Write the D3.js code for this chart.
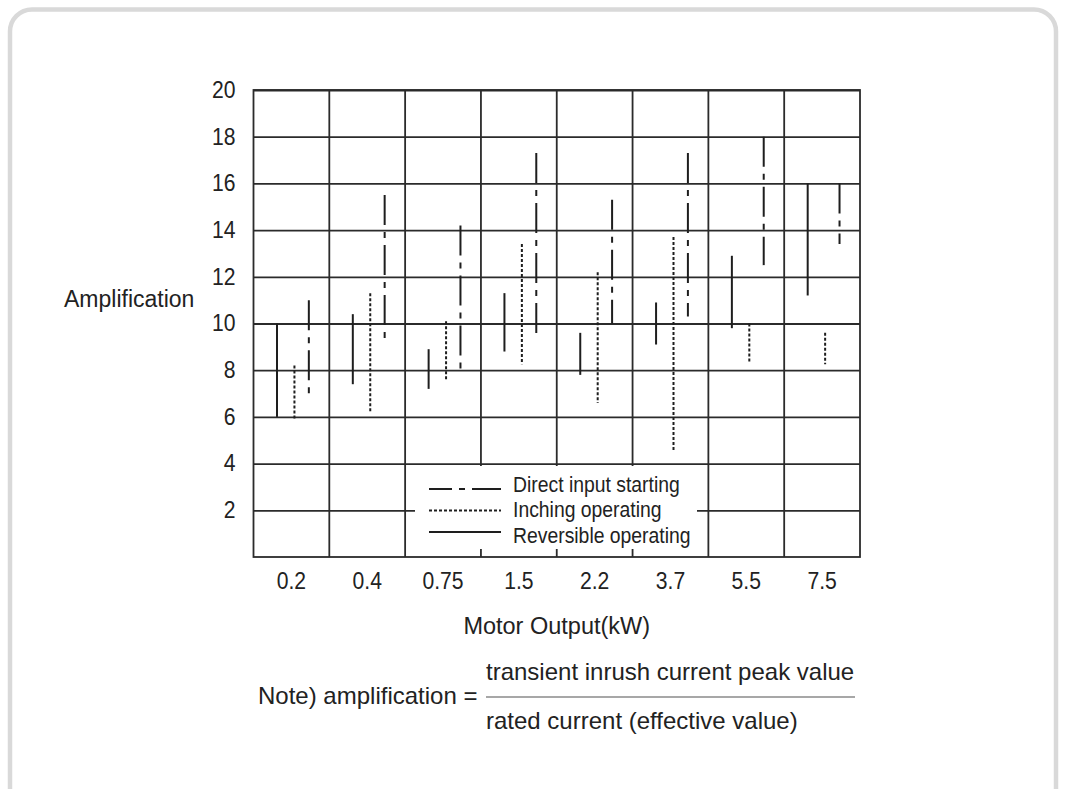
<!DOCTYPE html>
<html>
<head>
<meta charset="utf-8">
<script src="https://cdn.jsdelivr.net/npm/d3@7"></script>
<style>
  body { margin: 0; background: #fff; }
  svg text { font-family: "Liberation Sans", Arial, Helvetica, sans-serif; fill: #222; }
</style>
</head>
<body>
<div class="root"></div>
<script>
const width = 1066;
const height = 789;

// motor output categories (kW)
const categories = ["0.2", "0.4", "0.75", "1.5", "2.2", "3.7", "5.5", "7.5"];
// amplification ranges
const reversibleLow = [6.0, 7.4, 7.2, 8.8, 7.8, 9.1, 9.8, 11.2];
const reversibleHigh = [10.0, 10.4, 8.9, 11.3, 9.6, 10.9, 12.9, 16.0];
const inchingLow = [5.9, 6.2, 7.6, 8.25, 6.6, 4.5, 8.3, 8.25];
const inchingHigh = [8.2, 11.3, 10.1, 13.4, 12.2, 13.7, 10.0, 9.6];
const directLow = [6.8, 9.2, 7.9, 9.5, 10.0, 10.3, 12.5, 13.4];
const directHigh = [11.0, 15.5, 14.2, 17.3, 15.3, 17.3, 18.0, 16.0];
const yTicks = [2, 4, 6, 8, 10, 12, 14, 16, 18, 20];

const series = [
  { name: "Reversible operating", low: reversibleLow, high: reversibleHigh, pos: 0.31, dash: null, legendDash: null },
  { name: "Inching operating", low: inchingLow, high: inchingHigh, pos: 0.54, dash: "3,2", legendDash: "3,2" },
  { name: "Direct input starting", low: directLow, high: directHigh, pos: 0.73, dash: "30,7,6,7", legendDash: "23,7,6,7,40" },
];
const legendOrder = [series[2], series[1], series[0]];

const svg = d3
  .select(".root")
  .append("svg")
  .attr("width", width)
  .attr("height", height);

// rounded frame
svg.append("rect")
  .attr("x", 10).attr("y", 9.5)
  .attr("width", 1046).attr("height", 820)
  .attr("rx", 22)
  .attr("fill", "none")
  .attr("stroke", "#d9d9d9")
  .attr("stroke-width", 4.5);

const plotLeft = 253.5, plotRight = 860, plotTop = 90, plotBottom = 557;

const x = d3.scaleBand().domain(categories).range([plotLeft, plotRight]);
const y = d3.scaleLinear().domain([0, 20]).range([plotBottom, plotTop]);

const grid = svg.append("g");

// horizontal grid + y labels
const yAxis = grid.append("g")
  .attr("transform", `translate(${plotLeft},0)`)
  .call(d3.axisLeft(y).tickValues(yTicks).tickSize(-(plotRight - plotLeft)).tickPadding(18));
yAxis.select(".domain").remove();
yAxis.selectAll(".tick line").attr("stroke", "#2b2b2b").attr("stroke-width", 1.8);
yAxis.selectAll(".tick text")
  .attr("font-size", 23)
  .attr("font-family", null)
  .attr("fill", "#222")
  .attr("transform", "scale(0.92,1)")
  .attr("x", -18 / 0.92);

// vertical grid
grid.selectAll(".vline")
  .data(categories.slice(1))
  .join("line")
  .attr("x1", (d) => x(d)).attr("x2", (d) => x(d))
  .attr("y1", plotTop).attr("y2", plotBottom)
  .attr("stroke", "#2b2b2b")
  .attr("stroke-width", 1.8);

grid.append("rect")
  .attr("x", plotLeft).attr("y", plotTop)
  .attr("width", plotRight - plotLeft).attr("height", plotBottom - plotTop)
  .attr("fill", "none")
  .attr("stroke", "#2b2b2b")
  .attr("stroke-width", 1.8);

// x labels
const xAxis = svg.append("g")
  .attr("transform", `translate(0,${plotBottom})`)
  .call(d3.axisBottom(x).tickSize(0).tickPadding(16));
xAxis.select(".domain").remove();
xAxis.selectAll(".tick text")
  .attr("font-size", 23)
  .attr("font-family", null)
  .attr("fill", "#222")
  .attr("transform", "scale(0.92,1)");

// range lines
series.forEach((s) => {
  svg.append("g")
    .selectAll("line")
    .data(categories)
    .join("line")
    .attr("x1", (d) => x(d) + x.bandwidth() * s.pos)
    .attr("x2", (d) => x(d) + x.bandwidth() * s.pos)
    .attr("y1", (d, i) => y(s.high[i]))
    .attr("y2", (d, i) => y(s.low[i]))
    .attr("stroke", "#1e1e1e")
    .attr("stroke-width", 2)
    .attr("stroke-dasharray", s.dash);
});

// legend
const legend = svg.append("g");
legend.append("rect")
  .attr("x", 415).attr("y", 466)
  .attr("width", 282).attr("height", 83)
  .attr("fill", "#fff");

legendOrder.forEach((s, i) => {
  const ly = 489 + i * 21.5;
  legend.append("line")
    .attr("x1", 429).attr("x2", 501)
    .attr("y1", ly).attr("y2", ly)
    .attr("stroke", "#1e1e1e")
    .attr("stroke-width", 2)
    .attr("stroke-dasharray", s.legendDash);
  legend.append("text")
    .attr("transform", `translate(513,${492 + i * 25.3}) scale(0.88,1)`)
    .attr("font-size", 22)
    .text(s.name);
});

// axis titles
svg.append("text")
  .attr("x", 64).attr("y", 307)
  .attr("font-size", 23)
  .text("Amplification");

svg.append("text")
  .attr("x", (plotLeft + plotRight) / 2).attr("y", 634)
  .attr("text-anchor", "middle")
  .attr("font-size", 23.5)
  .text("Motor Output(kW)");

// note
svg.append("text")
  .attr("x", 258).attr("y", 704)
  .attr("font-size", 24)
  .text("Note) amplification =");

svg.append("text")
  .attr("x", 486).attr("y", 680)
  .attr("font-size", 24)
  .text("transient inrush current peak value");

svg.append("line")
  .attr("x1", 486).attr("x2", 855)
  .attr("y1", 697).attr("y2", 697)
  .attr("stroke", "#8a8a8a")
  .attr("stroke-width", 1.5);

svg.append("text")
  .attr("x", 486).attr("y", 729)
  .attr("font-size", 24)
  .text("rated current (effective value)");
</script>
</body>
</html>
